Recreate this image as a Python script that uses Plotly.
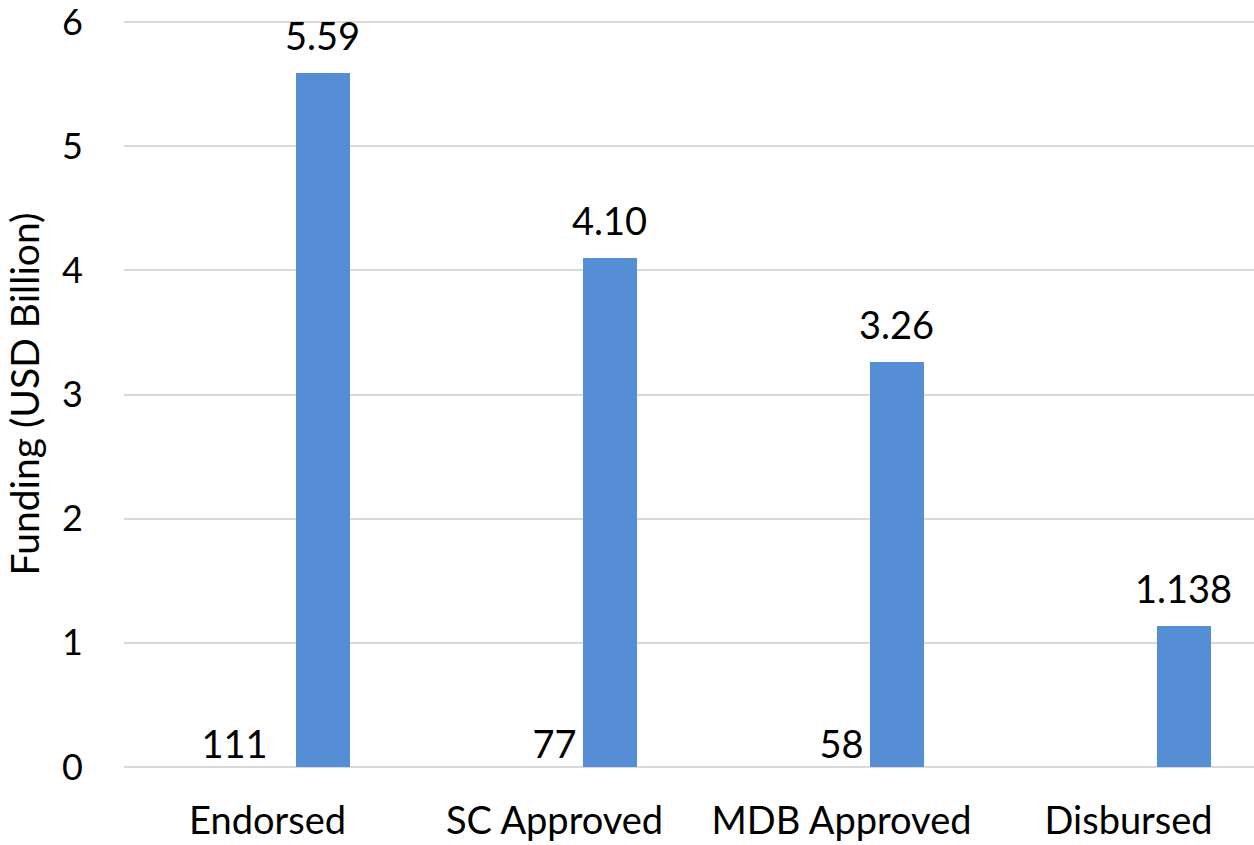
import plotly.graph_objects as go

# Pipeline stages and their values
stages = ["Endorsed", "SC Approved", "MDB Approved", "Disbursed"]
funding_bn = [5.59, 4.10, 3.26, 1.138]
funding_labels = ["5.59", "4.10", "3.26", "1.138"]
project_counts = [111, 77, 58, None]

FONT = "Lato"
BAR_BLUE = "#558ed5"
GRID = "#d9d9d9"
BAR_OFFSET = 0.098
BAR_WIDTH = 0.19

fig = go.Figure()

# Funding bars, set to the right of each stage centre
fig.add_trace(go.Bar(
    x=stages,
    y=funding_bn,
    marker=dict(color=BAR_BLUE, line=dict(width=0)),
    offset=BAR_OFFSET,
    width=BAR_WIDTH,
    showlegend=False,
))

# Value labels above each funding bar
for i, (val, lab) in enumerate(zip(funding_bn, funding_labels)):
    fig.add_annotation(
        x=i + BAR_OFFSET + BAR_WIDTH / 2,
        y=val,
        text=lab,
        showarrow=False,
        xanchor="center",
        yanchor="bottom",
        yshift=13,
        font=dict(family=FONT, size=38, color="black"),
    )

# Project counts written along the baseline
count_stages = [s for s, c in zip(stages, project_counts) if c is not None]
count_text = [str(c) for c in project_counts if c is not None]
fig.add_trace(go.Scatter(
    x=count_stages,
    y=[0] * len(count_stages),
    mode="text",
    text=count_text,
    textposition=["top left", "top center", "top center"],
    textfont=dict(family=FONT, size=38, color="black"),
    cliponaxis=False,
    showlegend=False,
))

fig.update_layout(
    width=1254,
    height=845,
    margin=dict(l=124, r=0, t=21, b=78),
    paper_bgcolor="white",
    plot_bgcolor="white",
    font=dict(family=FONT, color="black"),
    bargap=0,
    xaxis=dict(
        type="category",
        range=[-0.5, 3.437],
        showgrid=False,
        showline=False,
        ticks="",
        tickfont=dict(family=FONT, size=38, color="black"),
        ticklabelstandoff=28,
    ),
    yaxis=dict(
        range=[0, 6.01],
        tickvals=[0, 1, 2, 3, 4, 5, 6],
        showgrid=True,
        gridcolor=GRID,
        gridwidth=2,
        zeroline=True,
        zerolinecolor=GRID,
        zerolinewidth=2,
        showline=False,
        ticks="",
        tickfont=dict(family=FONT, size=36, color="black"),
        ticklabelstandoff=40,
        ticklabeloverflow="allow",
        title=dict(text="Funding (USD Billion)", font=dict(family=FONT, size=39, color="black"), standoff=10),
    ),
)

fig.write_html("out.html")
